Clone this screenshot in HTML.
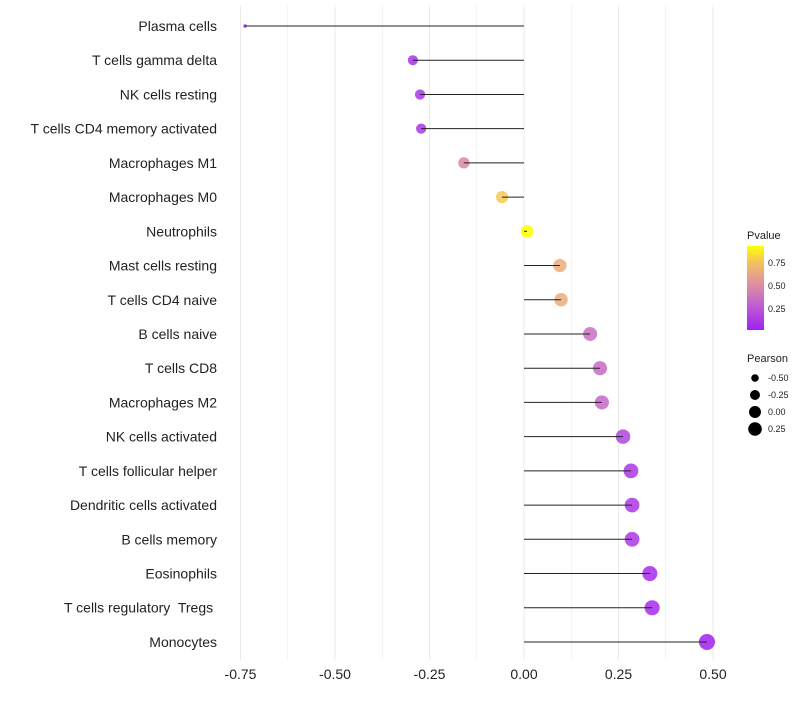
<!DOCTYPE html>
<html><head><meta charset="utf-8"><style>
body{margin:0;background:#fff;font-family:"Liberation Sans",sans-serif}
svg text{font-family:"Liberation Sans",sans-serif;white-space:pre}
</style></head><body>
<svg id="chart" width="800" height="700">
<defs><linearGradient id="pg" x1="0" y1="1" x2="0" y2="0">
<stop offset="0" stop-color="#A020F0"/><stop offset="0.3" stop-color="#C060D0"/><stop offset="0.55" stop-color="#E090A0"/><stop offset="0.8" stop-color="#F2C060"/><stop offset="1" stop-color="#FFFF00"/></linearGradient></defs>
<g id="grid"></g><g id="marks"></g><g id="labels"></g><g id="legend"></g>
</svg>
<script>
const categories=["Plasma cells","T cells gamma delta","NK cells resting","T cells CD4 memory activated","Macrophages M1","Macrophages M0","Neutrophils","Mast cells resting","T cells CD4 naive","B cells naive","T cells CD8","Macrophages M2","NK cells activated","T cells follicular helper","Dendritic cells activated","B cells memory","Eosinophils","T cells regulatory  Tregs ","Monocytes"];
const pearson=[-0.738,-0.294,-0.275,-0.272,-0.159,-0.058,0.008,0.095,0.098,0.175,0.201,0.206,0.262,0.283,0.286,0.286,0.333,0.339,0.484];
const pvalue=[0.02,0.08,0.1,0.1,0.45,0.78,0.95,0.65,0.65,0.32,0.3,0.28,0.15,0.1,0.1,0.1,0.06,0.06,0.02];
const xTicks=[-0.75,-0.5,-0.25,0,0.25,0.5];
const xTickLabels=["-0.75","-0.50","-0.25","0.00","0.25","0.50"];
const NS="http://www.w3.org/2000/svg";
function x(v){return 524+v*378;}
function y(i){return 26+i*34.22;}
function r(v){return Math.sqrt(Math.max(2,40+50*v));}
function lerp(a,b,t){return Math.round(a+(b-a)*t);}
const stops=[[0.02,[160,32,240]],[0.25,[192,96,208]],[0.5,[224,144,160]],[0.75,[242,192,96]],[0.95,[255,255,0]]];
function col(p){for(let k=0;k<stops.length-1;k++){const a=stops[k],b=stops[k+1];if(p<=b[0]||k==stops.length-2){let t=Math.min(1,Math.max(0,(p-a[0])/(b[0]-a[0])));return `rgb(${lerp(a[1][0],b[1][0],t)},${lerp(a[1][1],b[1][1],t)},${lerp(a[1][2],b[1][2],t)})`;}}}
function mk(t,attrs,parent){const e=document.createElementNS(NS,t);for(const k in attrs)e.setAttribute(k,attrs[k]);document.getElementById(parent).appendChild(e);return e;}
for(let v=-0.75;v<=0.5001;v+=0.125){
 const g=mk('line',{x1:x(v),x2:x(v),y1:5,y2:660,stroke:'#ebebeb','stroke-width':Math.abs((v*4)%1)<0.01?1:0.6},'grid');
 
 
}
xTicks.forEach((v,i)=>{const t=mk('text',{x:x(v),y:679,'text-anchor':'middle','font-size':14,fill:'#222'},'labels');t.textContent=xTickLabels[i];
 
 });
categories.forEach((c,i)=>{
 const t=mk('text',{x:217,y:y(i)+5,'text-anchor':'end','font-size':14,fill:'#222'},'labels');t.textContent=c;
 
 
 const cc=mk('circle',{cx:x(pearson[i]),cy:y(i),r:r(pearson[i]),fill:col(pvalue[i]),'fill-opacity':0.85},'marks');
 
 
 const l=mk('line',{x1:x(0),x2:x(pearson[i]),y1:y(i),y2:y(i),stroke:'#222','stroke-width':1},'marks');
 
 
});
const lg=[['text',{x:747,y:239,'font-size':11,fill:'#222'},'Pvalue'],['rect',{x:747,y:246,width:17,height:84,fill:'url(#pg)'}]];
lg.forEach(d=>{const e=mk(d[0],d[1],'legend');if(d[2])e.textContent=d[2];
 
 });
[[0.75,263],[0.5,286],[0.25,309]].forEach(a=>{const t=mk('text',{x:768,y:a[1]+3,'font-size':9,fill:'#222'},'legend');t.textContent=a[0].toFixed(2);
 
 });
const pt=mk('text',{x:747,y:362,'font-size':11,fill:'#222'},'legend');pt.textContent='Pearson';


[-0.5,-0.25,0,0.25].forEach((v,k)=>{const yy=378+k*17;
 const c=mk('circle',{cx:755,cy:yy,r:Math.sqrt(35.5+42.6*v),fill:'#000'},'legend');
 
 
 const t=mk('text',{x:768,y:yy+3,'font-size':9,fill:'#222'},'legend');t.textContent=v.toFixed(2);
 
 });
</script>
</body></html>
